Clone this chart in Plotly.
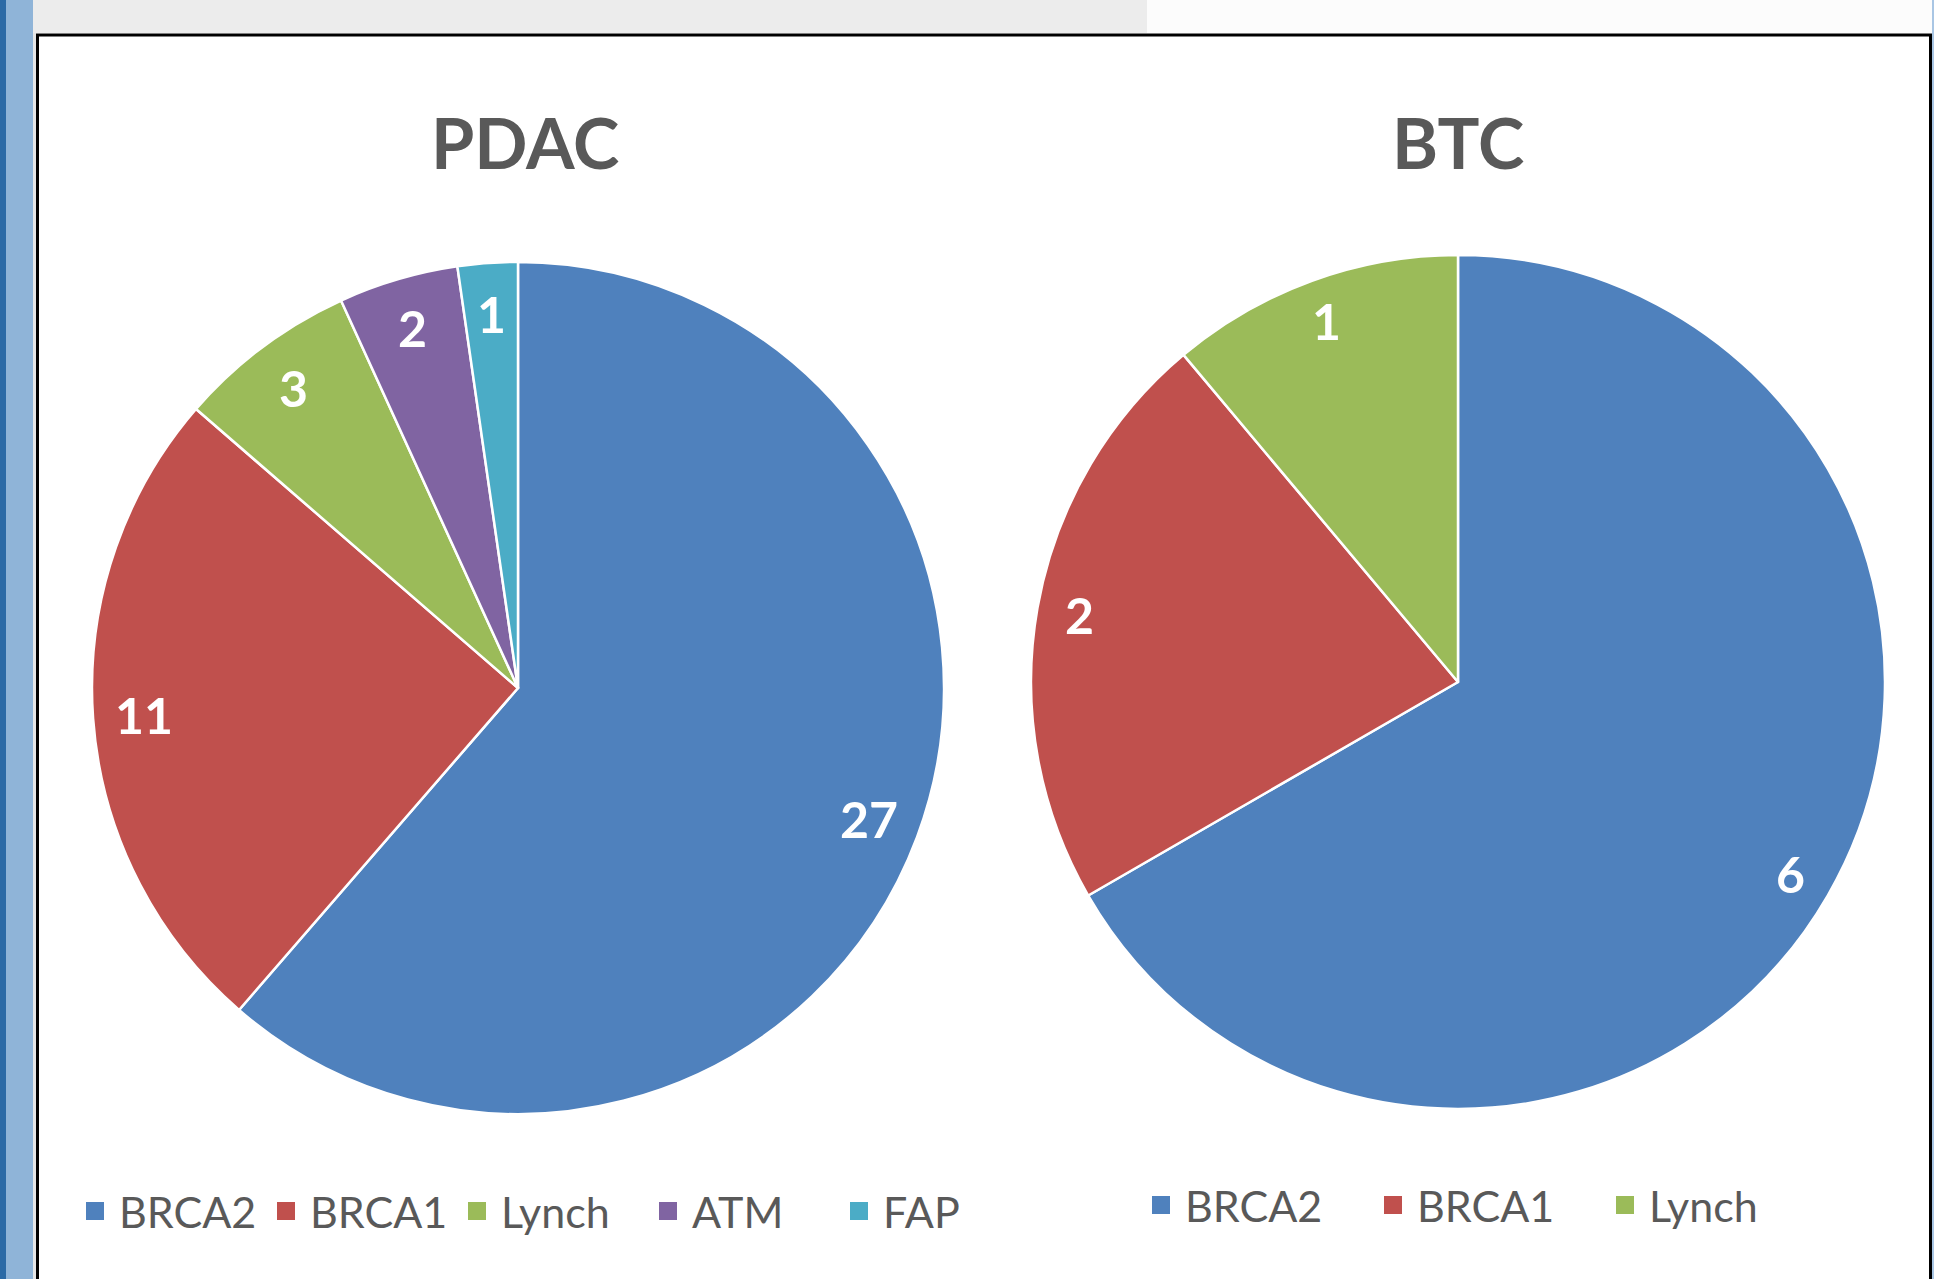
import math
import plotly.graph_objects as go

# ---- data ----
pdac_labels = ["BRCA2", "BRCA1", "Lynch", "ATM", "FAP"]
pdac_values = [27, 11, 3, 2, 1]
btc_labels = ["BRCA2", "BRCA1", "Lynch"]
btc_values = [6, 2, 1]
colors = {"BRCA2": "#4F81BD", "BRCA1": "#C0504D", "Lynch": "#9BBB59",
          "ATM": "#8064A2", "FAP": "#4BACC6"}
titles = ["PDAC", "BTC"]

W, H = 1934, 1279
FONT = "Lato"
GRAY = "#595959"


def px(x):
    return x / W


def py(y):  # y measured from top in pixels
    return 1 - y / H


# pie geometry (pixels)
pies = [
    dict(cx=518, cy=688, r=426, labels=pdac_labels, values=pdac_values,
         legend="legend", f=0.88, title=titles[0], tx=525),
    dict(cx=1458, cy=682, r=427, labels=btc_labels, values=btc_values,
         legend="legend2", f=0.90, title=titles[1], tx=1458),
]

fig = go.Figure()
annotations = []
for p in pies:
    fig.add_trace(go.Pie(
        labels=p["labels"], values=p["values"], sort=False,
        direction="clockwise", rotation=0, textinfo="none",
        marker=dict(colors=[colors[l] for l in p["labels"]],
                    line=dict(color="white", width=2.5)),
        domain=dict(x=[px(p["cx"] - p["r"]), px(p["cx"] + p["r"])],
                    y=[py(p["cy"] + p["r"]), py(p["cy"] - p["r"])]),
        showlegend=False, hoverinfo="label+value",
    ))
    # legend entries (square swatches)
    for lab in p["labels"]:
        fig.add_trace(go.Scatter(
            x=[None], y=[None], mode="markers", name=lab,
            marker=dict(symbol="square", size=16, color=colors[lab],
                        line=dict(color=colors[lab], width=2)),
            legend=p["legend"], hoverinfo="skip",
        ))
    total = sum(p["values"])
    cum = 0
    for lab, v in zip(p["labels"], p["values"]):
        mid = (cum + v / 2) / total * 2 * math.pi
        cum += v
        x = p["cx"] + p["f"] * p["r"] * math.sin(mid)
        y = p["cy"] - p["f"] * p["r"] * math.cos(mid)
        annotations.append(dict(
            x=px(x), y=py(y), xref="paper", yref="paper", showarrow=False,
            text=f"<b>{v}</b>", font=dict(family=FONT, size=50, color="white"),
            xanchor="center", yanchor="middle"))
    annotations.append(dict(
        x=px(p["tx"]), y=py(142), xref="paper", yref="paper", showarrow=False,
        text=f"<b>{p['title']}</b>", font=dict(family=FONT, size=70, color=GRAY),
        xanchor="center", yanchor="middle"))

shapes = [
    # top gray strip
    dict(type="rect", xref="paper", yref="paper", x0=px(33), x1=px(1147),
         y0=py(33), y1=1, fillcolor="#ECECEC", line=dict(width=0), layer="below"),
    dict(type="rect", xref="paper", yref="paper", x0=px(1147), x1=1,
         y0=py(33), y1=1, fillcolor="#FCFCFC", line=dict(width=0), layer="below"),
    # left bars
    dict(type="rect", xref="paper", yref="paper", x0=0, x1=px(6),
         y0=0, y1=1, fillcolor="#2B6AA6", line=dict(width=0), layer="below"),
    dict(type="rect", xref="paper", yref="paper", x0=px(6), x1=px(33),
         y0=0, y1=1, fillcolor="#8FB4D8", line=dict(width=0), layer="below"),
    dict(type="rect", xref="paper", yref="paper", x0=px(33), x1=px(36),
         y0=0, y1=py(33), fillcolor="#E6E6E6", line=dict(width=0), layer="below"),
    # right edge strip
    dict(type="rect", xref="paper", yref="paper", x0=px(1932), x1=1,
         y0=0, y1=1, fillcolor="#A9C6E4", line=dict(width=0), layer="below"),
    # frame
    dict(type="rect", xref="paper", yref="paper", x0=px(37.5), x1=px(1930.5),
         y0=py(1290), y1=py(35), fillcolor="rgba(0,0,0,0)",
         line=dict(color="black", width=3), layer="below"),
]

fig.update_layout(
    width=W, height=H, margin=dict(l=0, r=0, t=0, b=0),
    paper_bgcolor="white", plot_bgcolor="rgba(0,0,0,0)",
    xaxis=dict(visible=False), yaxis=dict(visible=False),
    annotations=annotations, shapes=shapes,
    legend=dict(orientation="h", x=px(71), y=py(1211), xanchor="left",
                yanchor="middle", font=dict(family=FONT, size=43, color=GRAY),
                bgcolor="rgba(0,0,0,0)", itemclick=False, itemdoubleclick=False,
                itemsizing="trace", itemwidth=38,
                entrywidth=138, entrywidthmode="pixels"),
    legend2=dict(orientation="h", x=px(1137), y=py(1205), xanchor="left",
                 yanchor="middle", font=dict(family=FONT, size=43, color=GRAY),
                 bgcolor="rgba(0,0,0,0)", itemclick=False, itemdoubleclick=False,
                 itemsizing="trace", itemwidth=38,
                 entrywidth=179, entrywidthmode="pixels"),
)

fig.write_html(
    "out.html",
    config={"displayModeBar": False},
    post_script="document.body.style.margin='0';document.body.style.padding='0';",
)
